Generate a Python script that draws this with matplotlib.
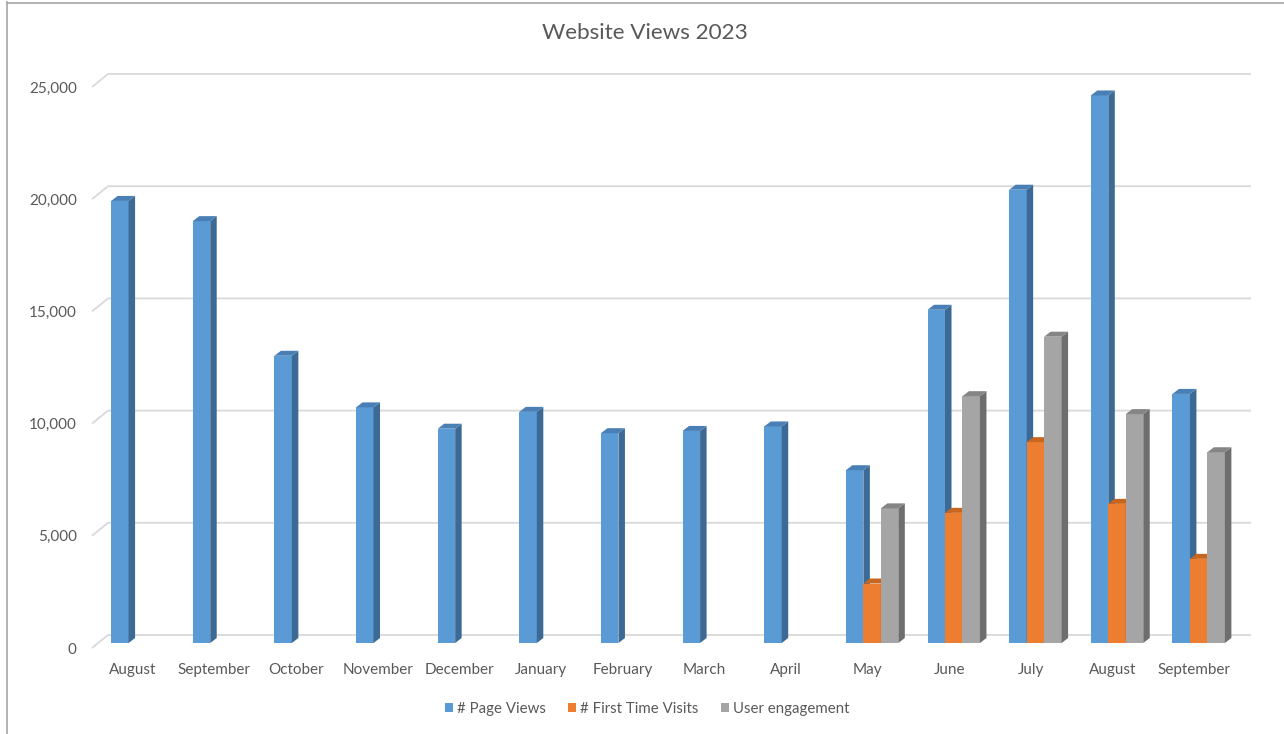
import numpy as np
import matplotlib
matplotlib.use("Agg")
import matplotlib.pyplot as plt
from matplotlib.patches import Polygon, Patch
from matplotlib.lines import Line2D

# ---------------- data ----------------
months = ["August", "September", "October", "November", "December", "January",
          "February", "March", "April", "May", "June", "July", "August", "September"]
page_views = [19700, 18800, 12800, 10500, 9550, 10300, 9350, 9450, 9650,
              7700, 14850, 20200, 24400, 11100]
first_visits = [np.nan] * 9 + [2650, 5800, 8950, 6200, 3750]
engagement = [np.nan] * 9 + [6000, 11000, 13650, 10200, 8500]
series_names = ["# Page Views", "# First Time Visits", "User engagement"]
y_ticks = [0, 5000, 10000, 15000, 20000, 25000]
title = "Website Views 2023"

front_cols = ["#5B9BD5", "#ED7D31", "#A5A5A5"]
side_cols = ["#3C6A94", "#B35A1E", "#6E6E6E"]
top_cols = ["#4A7FB5", "#C8661F", "#858585"]

FONT = ["Lato", "DejaVu Sans"]
TXT = "#595959"
GRID = "#D9D9D9"

W, H = 1284, 734
fig = plt.figure(figsize=(W / 100, H / 100), dpi=100)
fig.patch.set_facecolor("white")

# front plane of the plot area (pixel geometry)
left_px, right_px, top_px, bot_px = 92, 1235, 87, 648
ax = fig.add_axes([left_px / W, (H - bot_px) / H,
                   (right_px - left_px) / W, (bot_px - top_px) / H])
n = len(months)
ax.set_xlim(-0.5, n - 0.5)
ax.set_ylim(0, 25000)
for s in ax.spines.values():
    s.set_visible(False)
ax.patch.set_alpha(0)

px_x = (right_px - left_px) / n          # pixels per category
px_y = (bot_px - top_px) / 25000.0       # pixels per unit


def dxu(p):
    return p / px_x


def dyu(p):
    return p / px_y


# back wall offset
BX, BY = dxu(16), dyu(13)
x0, x1 = -0.5, n - 0.5
for v in y_ticks:
    ax.plot([x0, x0 + BX, x1 + BX], [v, v + BY, v + BY], color=GRID,
            lw=1.3, clip_on=False, zorder=0, solid_capstyle="butt")

# bars
w = 0.214
bar_dx, bar_dy = dxu(4.5), dyu(5)
ddx, ddy = dxu(6.5), dyu(5)
all_series = [page_views, first_visits, engagement]
for i in range(n):
    for s, vals in enumerate(all_series):
        v = vals[i]
        if v is None or np.isnan(v):
            continue
        xc = i + (s - 1) * w + bar_dx
        z = 2 + i * 10 + s * 3
        ax.bar([xc], [v], width=w, bottom=bar_dy, color=front_cols[s],
               zorder=z, clip_on=False, linewidth=0)
        xl, xr = xc - w / 2, xc + w / 2
        yb, yt = bar_dy, bar_dy + v
        side = Polygon([(xr, yb), (xr, yt), (xr + ddx, yt + ddy), (xr + ddx, yb + ddy)],
                       closed=True, facecolor=side_cols[s], edgecolor="none",
                       zorder=z + 1, clip_on=False)
        top = Polygon([(xl, yt), (xr, yt), (xr + ddx, yt + ddy), (xl + ddx, yt + ddy)],
                      closed=True, facecolor=top_cols[s], edgecolor="none",
                      zorder=z + 1, clip_on=False)
        ax.add_patch(side)
        ax.add_patch(top)

# ticks
ax.set_yticks(y_ticks)
ax.set_yticklabels([f"{t:,}" for t in y_ticks], fontfamily=FONT, fontsize=11, color=TXT)
ax.set_xticks(range(n))
ax.set_xticklabels(months, fontfamily=FONT, fontsize=11, color=TXT)
ax.tick_params(axis="y", length=0, pad=11)
ax.tick_params(axis="x", length=0, pad=10.5)

# title
fig.text(0.5 + 3 / W, 1 - 33 / H, title, ha="center", va="center",
         fontfamily=FONT, fontsize=16.2, color=TXT)

# legend
handles = [Patch(facecolor=c, edgecolor="none") for c in front_cols]
fig.legend(handles, series_names, loc="center", bbox_to_anchor=(0.5 + 5 / W, 1 - 709 / H),
           ncol=3, frameon=False, prop={"family": FONT, "size": 10.8},
           labelcolor=TXT, handlelength=0.55, handleheight=0.55,
           handletextpad=0.25, columnspacing=1.5)

# chart border (left and top)
fig.add_artist(Line2D([7 / W, 7 / W], [0, 1 - 2 / H], color="#A6A6A6", lw=1.2,
                      transform=fig.transFigure))
fig.add_artist(Line2D([7 / W, 1], [1 - 2.5 / H, 1 - 2.5 / H], color="#A6A6A6", lw=1.2,
                      transform=fig.transFigure))

fig.savefig("out.png", dpi=100, facecolor="white")
